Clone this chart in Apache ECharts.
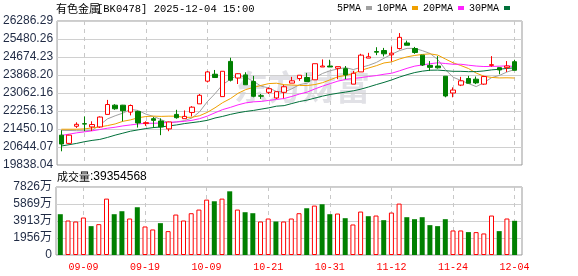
<!DOCTYPE html>
<html><head><meta charset="utf-8">
<script src="https://cdn.jsdelivr.net/npm/echarts@6/dist/echarts.min.js"></script>
<style>html,body{margin:0;padding:0;background:#fff}#c{width:578px;height:276px}</style>
</head><body><div id="c"></div>
<script>
const dates = ['09-04','09-05','09-08','09-09','09-10','09-11','09-12','09-15','09-16','09-17','09-18','09-19','09-22','09-23','09-24','09-25','09-26','09-29','09-30','10-09','10-10','10-13','10-14','10-15','10-16','10-17','10-20','10-21','10-22','10-23','10-24','10-27','10-28','10-29','10-30','10-31','11-03','11-04','11-05','11-06','11-07','11-10','11-11','11-12','11-13','11-14','11-17','11-18','11-19','11-20','11-21','11-24','11-25','11-26','11-27','11-28','12-01','12-02','12-03','12-04'];
const xLabels = ['09-09','09-19','10-09','10-21','10-31','11-12','11-24','12-04'];
const openP  = [21175,20806,21573,21690,21543,21543,22104,22517,22517,22207,22236,21691,21912,21809,21455,22104,21912,22192,22576,23593,23903,22900,24478,23734,23873,23578,22935,23092,22841,23092,23505,23711,23755,23652,24227,24271,24168,24153,23460,24006,24625,24920,24964,24772,25053,25303,25053,24758,24301,24271,23814,23062,23416,23711,23681,23460,24301,24197,24197,24463];
const closeP = [20777,21175,21660,21670,21650,21986,22546,22355,22266,22502,21720,21735,21838,21543,21765,21956,22015,22428,22959,24006,23755,24035,23637,23926,23431,22915,22922,23254,23121,23342,23608,23858,23578,24374,24271,24227,24242,23873,23947,24758,24684,24890,24817,24846,25554,25200,24876,24315,24210,24190,22929,23195,23608,23500,23515,23799,24330,24094,24271,24079];
const lowP   = [20452,20790,21499,21352,21367,21499,22104,22310,21794,22060,21514,21588,21499,21175,21352,21912,21912,22015,22576,23534,23755,22900,23578,23465,23431,22870,22797,23018,22797,22826,23505,23608,23578,23652,24227,24227,23681,23681,23460,24006,24625,24758,24699,24478,25008,25200,24817,24271,24050,24153,22870,22870,23372,23500,23460,23431,24242,23903,24006,24079];
const highP  = [21396,21190,21750,22015,21794,22015,22753,22561,22530,22546,22270,21794,21986,21927,21780,22310,22281,22472,23018,24050,24094,24035,24640,23940,23991,23829,23018,23313,23121,23416,23785,23858,23962,24374,24566,24551,24242,24271,24050,24817,24861,25112,25082,25141,25746,25407,25126,24758,24492,24714,23814,23313,23785,23829,23799,23829,24714,24197,24492,24551];
// volume in 万
const volume = [4695,3970,3855,4313,3321,3550,6489,4695,5038,4199,5496,3283,2939,3664,2748,4657,3970,4809,5229,6374,6184,6489,7329,5229,4924,4809,3855,4199,3855,3855,4199,4809,5382,5687,5840,4695,4771,4237,3512,5000,4466,4542,4008,4886,5916,4351,4122,4351,3435,3321,4122,2825,2825,2634,2634,2481,4542,2748,4199,3935.4568];
// moving-average values before enough history is shown
const ma5Head  = [21390,21385,21375,21370];
const ma10Head = [21440,21440,21440,21455,21499,21543,21603,21676,21794];
const ma20Head = [21160,21219,21278,21322,21367,21426,21485,21529,21588,21632,21676,21706,21706,21720,21750,21765,21794,21838,21912];
const ma30Head = [20688,20747,20806,20880,20939,20983,21072,21175,21263,21352,21411,21470,21514,21543,21588,21632,21691,21735,21779,21838,21942,22015,22104,22177,22236,22281,22340,22398,22472];
const yTicks = [19838.04,20644.07,21450.10,22256.13,23062.16,23868.20,24674.23,25480.26,26286.29];
const volTicks = [0,1956.5,3913,5869.5,7826];

function ma(n, head){
  const out = [];
  for (let i = 0; i < closeP.length; i++) {
    if (i < head.length) { out.push([i, head[i]]); continue; }
    let s = 0; for (let k = i - n + 1; k <= i; k++) s += closeP[k];
    out.push([i, +(s / n).toFixed(2)]);
  }
  return out;
}
const labelIdx = xLabels.map(d => dates.indexOf(d));
const candle = dates.map((d, i) => [i, openP[i], closeP[i], lowP[i], highP[i]]);
const volData = volume.map((v, i) => {
  const prev = i === 0 ? openP[0] : closeP[i - 1];
  const up = closeP[i] >= prev;
  return { value: [i, v], itemStyle: up ? {color:'#fff', borderColor:'#ff0000', borderWidth:1} : {color:'#008000', borderColor:'#008000', borderWidth:0} };
});

const chart = echarts.init(document.getElementById('c'), null, {renderer:'canvas'});
const XMIN = -0.56, XMAX = 59.96;
const lineS = (name, color, data) => ({name, type:'line', xAxisIndex:0, yAxisIndex:0, data, showSymbol:false, symbol:'none', color, lineStyle:{width:1, color}, z:3, silent:true});
chart.setOption({
  animation:false,
  backgroundColor:'#fff',
  legend:{
    data:['5PMA','10PMA','20PMA','30PMA'], left:337, top:3, padding:0, align:'right', icon:'rect',
    itemWidth:6, itemHeight:4, itemGap:5,
    textStyle:{fontFamily:'Liberation Mono', fontSize:10, color:'#000'}
  },
  graphic:[
    {type:'text', left:56, top:3, style:{text:'有色金属', font:'11px "Noto Sans CJK SC"', fill:'#000'}},
    {type:'text', left:97, top:4, style:{text:'[BK0478] 2025-12-04 15:00', font:'10.5px "Liberation Mono"', fill:'#000'}},
    {type:'text', left:57, top:171, style:{text:'成交量', font:'11px "Noto Sans CJK SC"', fill:'#000'}},
    {type:'text', left:90, top:171, style:{text:':' + Math.round(volume[volume.length-1]*10000), font:'12px "Liberation Sans"', fill:'#000'}},
    {type:'text', left:234, top:70, z:-1, style:{text:'东方财富', font:'bold 34px "Noto Sans CJK SC"', fill:'rgba(175,175,190,0.38)'}}
  ],
  grid:[
    {left:56, top:21, width:466, height:144, show:true, borderColor:'#999', borderWidth:1},
    {left:56, top:187, width:466, height:68, show:true, borderColor:'#999', borderWidth:1}
  ],
  xAxis:[
    {type:'value', gridIndex:0, min:XMIN, max:XMAX, axisLine:{show:false}, axisTick:{show:false, customValues:labelIdx}, axisLabel:{show:false, customValues:labelIdx}, splitLine:{show:true, lineStyle:{color:'#c8c8c8', type:[4,4], width:1}}},
    {type:'value', gridIndex:1, min:XMIN, max:XMAX, axisLine:{show:false}, axisTick:{show:false, customValues:labelIdx}, axisLabel:{show:true, customValues:labelIdx, formatter:v => dates[Math.round(v)], color:'#ff0000', fontFamily:'Liberation Mono', fontSize:10, margin:7}, splitLine:{show:true, lineStyle:{color:'#c8c8c8', type:[4,4], width:1}}}
  ],
  yAxis:[
    {type:'value', gridIndex:0, min:yTicks[0], max:yTicks[yTicks.length-1], axisLine:{show:false}, axisTick:{show:false, customValues:yTicks}, axisLabel:{customValues:yTicks, formatter:v => v.toFixed(2), color:'#1f2a44', fontFamily:'Liberation Sans', fontSize:12, margin:4}, splitLine:{show:true, lineStyle:{color:'#d0d0d0', width:1}}},
    {type:'value', gridIndex:1, min:volTicks[0], max:volTicks[volTicks.length-1], axisLine:{show:false}, axisTick:{show:false, customValues:volTicks}, axisLabel:{customValues:volTicks, formatter:v => v === 0 ? '0' : Math.floor(v) + '万', color:'#1f2a44', fontFamily:'Liberation Sans, "Noto Sans CJK SC"', fontSize:12, margin:4}, splitLine:{show:true, lineStyle:{color:'#d0d0d0', width:1}}}
  ],
  series:[
    {type:'candlestick', name:'K', xAxisIndex:0, yAxisIndex:0, data:candle, encode:{x:0, y:[1,2,3,4]}, barWidth:5,
      itemStyle:{color:'#fff', color0:'#008000', borderColor:'#ff0000', borderColor0:'#008000', borderWidth:1}, z:4, silent:true},
    lineS('5PMA', '#a0a0a0', ma(5, ma5Head)),
    lineS('10PMA', '#f0a000', ma(10, ma10Head)),
    lineS('20PMA', '#ff22ff', ma(20, ma20Head)),
    lineS('30PMA', '#00703a', ma(30, ma30Head)),
    {type:'bar', name:'VOL', xAxisIndex:1, yAxisIndex:1, data:volData, barWidth:5, silent:true}
  ]
});
</script></body></html>
